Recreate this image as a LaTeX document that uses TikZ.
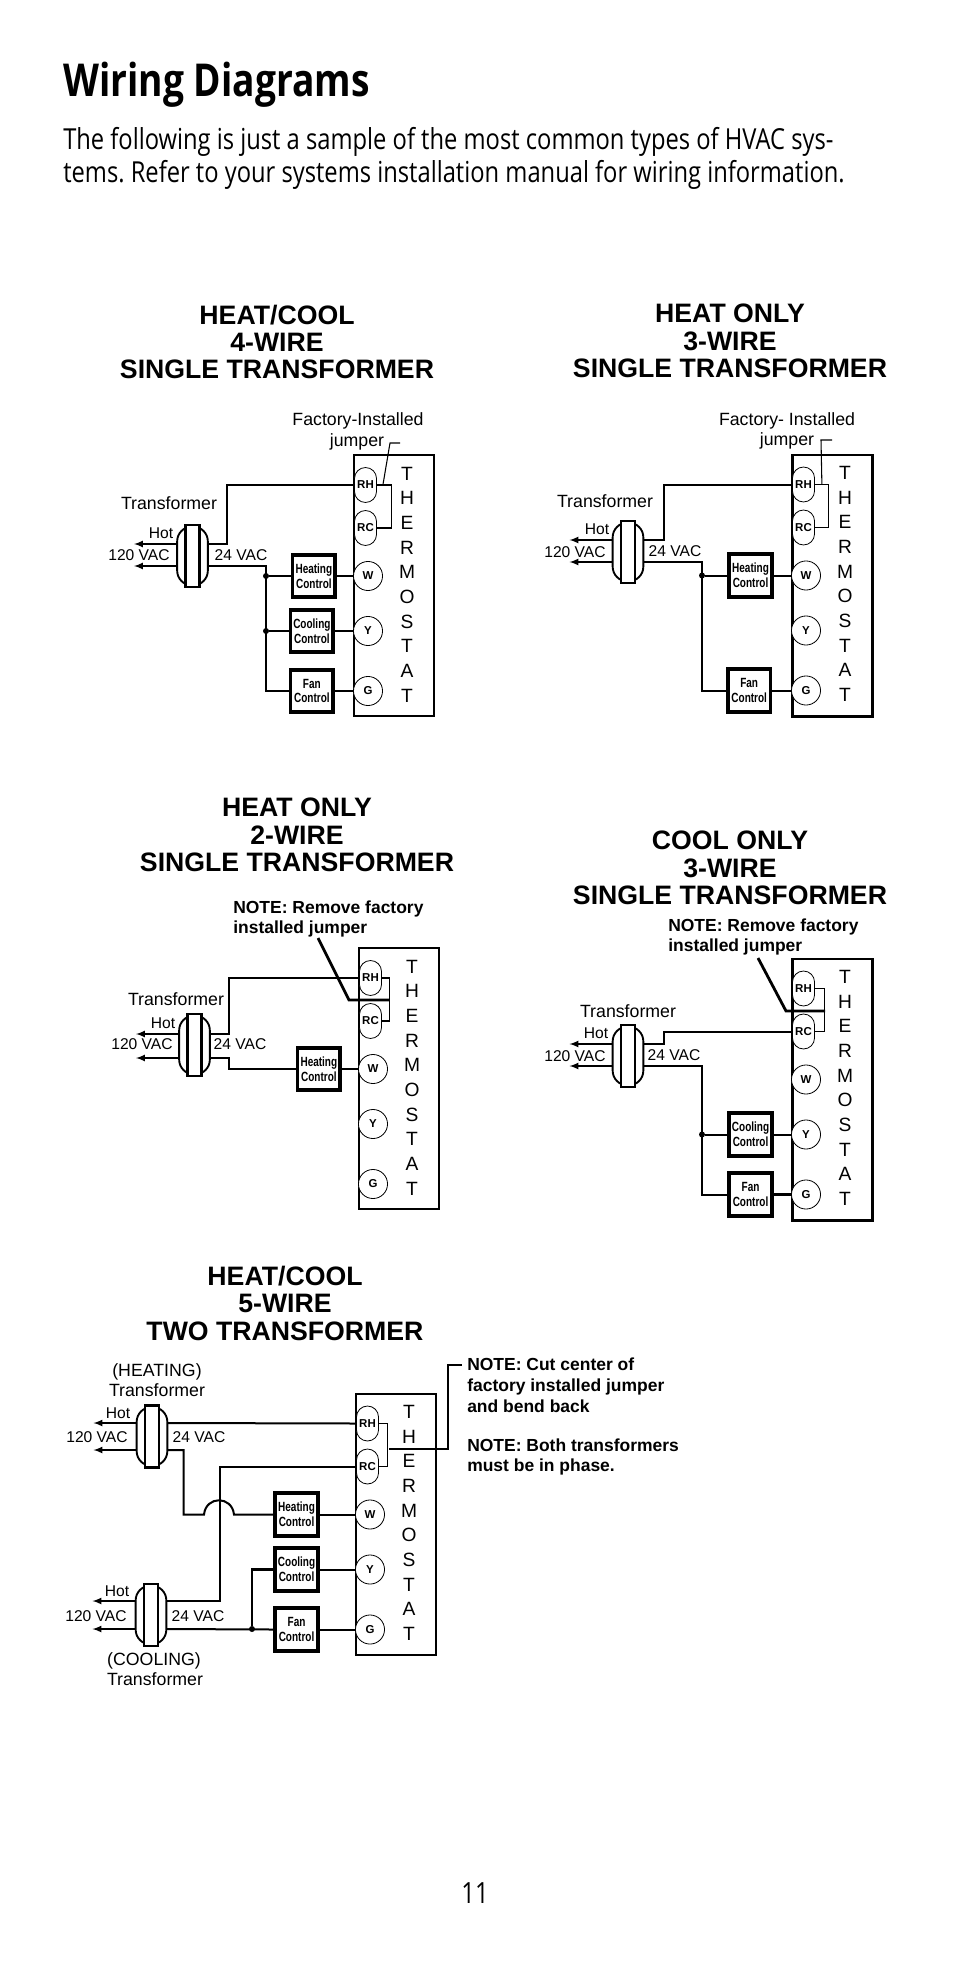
\documentclass[tikz,border=0pt]{standalone}
\usepackage{fontspec}
\setmainfont{Liberation Sans}
\newfontfamily\pagefont[FakeStretch=0.82]{Open Sans}
\newfontfamily\controlfont[FakeStretch=0.75]{Liberation Sans}
\usetikzlibrary{positioning, calc}
\tikzstyle{wire} = [draw, line width=1.5pt]
\tikzstyle{heavywire} = [draw, line width=2.1pt]
\tikzstyle{thinwire} = [draw, line width=.8pt]
\tikzstyle{feed} = [draw, line width=1.3pt, -latex]
\tikzstyle{dot} = [circle, fill=black, inner sep=0pt, minimum size=4.5pt]
\tikzstyle{lab} = [inner sep=0pt, text height=8.4pt, text depth=0pt, font=\fontsize{11.7}{14}\selectfont]
\tikzstyle{biglab} = [inner sep=0pt, text height=9.6pt, text depth=0pt, font=\fontsize{13.3}{16}\selectfont]
\tikzstyle{note} = [inner sep=0pt, anchor=west, align=left, font=\bfseries\fontsize{13.1}{15.4}\selectfont]
\tikzstyle{heading} = [inner sep=0pt, align=center, font=\bfseries\fontsize{20}{20.6}\selectfont]
\tikzstyle{control} = [draw, fill=white, line width=2.8pt, align=center, inner sep=0pt, minimum width=32pt, minimum height=32pt, font=\controlfont\bfseries\fontsize{10}{11.2}\selectfont]
\tikzstyle{terminal} = [draw, fill=white, line width=.6pt, inner sep=0pt, font=\bfseries\fontsize{8.6}{10}\selectfont]
\tikzstyle{pill} = [terminal, rectangle, rounded corners=8.2pt, minimum width=16.5pt, minimum height=26.2pt]
\tikzstyle{round} = [terminal, circle, minimum size=21.8pt]
\newcommand{\thermostat}[3][1.5pt]{%
	\begin{scope}[shift={(#2,#3)}]
		\node [draw, line width=#1, anchor=north west, minimum width=60pt, minimum height=196pt] (box) at (0,0) {};
		\foreach \letter [count=\i] in {T,H,E,R,M,O,S,T,A,T}
			\node [inner sep=0pt, font=\fontsize{14.4}{15}\selectfont] (letter\i) at (54,{19.5+24.67*(\i-1)}) {\letter};
		\node [pill] (RH) at (12.5,31) {RH};
		\node [pill] (RC) at (12.5,74) {RC};
		\node [round] (W) at (15,122) {W};
		\node [round] (Y) at (15,177) {Y};
		\node [round] (G) at (15,237) {G};
	\end{scope}}
\newcommand{\transformer}[5]{%
	\begin{scope}[shift={(#2,#3)}]
		\node [draw, fill=white, line width=1.4pt, rounded corners=11pt, minimum width=23pt, minimum height=44pt, inner sep=0pt] (#1) at (0,0) {};
		\node [draw, fill=white, line width=1.6pt, minimum width=10.5pt, minimum height=46.5pt, inner sep=0pt] (#1core) at (0,0) {};
		\coordinate (#1nw) at (-15.5,#4);
		\coordinate (#1sw) at (-15.5,#5);
		\coordinate (#1ne) at (15.5,#4);
		\coordinate (#1se) at (15.5,#5);
		\coordinate (#1nt) at (-58.5,#4);
		\coordinate (#1st) at (-58.5,#5);
		\draw [feed] (#1nw) -- (#1nt);
		\draw [feed] (#1sw) -- (#1st);
	\end{scope}}
\begin{document}
\frenchspacing
\begin{tikzpicture}[x=.75pt, y=-.75pt]
	\useasboundingbox (0,0) rectangle (954,1972);
	\node [inner sep=0pt, anchor=west, font=\pagefont\bfseries\fontsize{34}{36}\selectfont] (title) at (63,85) {Wiring Diagrams};
	\node [inner sep=0pt, anchor=north west, align=left, font=\pagefont\fontsize{21.7}{24.6}\selectfont] (intro) at (63,127) {The following is just a sample of the most common types of HVAC sys-\\tems. Refer to your systems installation manual for wiring information.};
	\node [inner sep=0pt, font=\pagefont\fontsize{21.9}{24}\selectfont] (pageno) at (475,1893) {11};
	% heat/cool 4-wire
	\begin{scope}[name prefix=a-]
		\node [heading] (head) at (277,342) {HEAT/COOL\\4-WIRE\\SINGLE TRANSFORMER};
		\node [biglab] (factory) at (358,419) {Factory-Installed};
		\node [biglab] (jumper) at (357,440) {jumper};
		\thermostat{353}{454}
		\transformer{tr}{192.5}{556}{-12}{10}
		\node [biglab] (trlab) at (169,503) {Transformer};
		\node [lab] (hot) at (161,533) {Hot};
		\node [lab] (vac) at (139,555) {120 VAC};
		\node [lab] (low) at (241,555) {24 VAC};
		\node [control, left=12pt of W] (heat) {Heating\\Control};
		\node [control, left=13.5pt of Y] (cool) {Cooling\\Control};
		\node [control, left=13.5pt of G] (fan) {Fan\\Control};
		\coordinate (bus) at (266,0);
		\node [dot] (j1) at (heat.west -| bus) {};
		\node [dot] (j2) at (cool.west -| bus) {};
		\draw [heavywire] (trne) -- ++(19,0) |- (RH.west);
		\draw [wire] (trse) -| (bus |- fan.west) -- (fan.west);
		\draw [wire] (j1) -- (heat.west);
		\draw [wire] (j2) -- (cool.west);
		\draw [wire] (heat.east) -- (W.west);
		\draw [wire] (cool.east) -- (Y.west);
		\draw [wire] (fan.east) -- (G.west);
		\draw [thinwire] (RH.east) -- ++(15,0) |- (RC.east);
		\coordinate (lead) at (390,443);
		\draw [thinwire] (400,443) -- (lead) -- ($(RH.east)+(6,0)$);
	\end{scope}
	% heat only 3-wire
	\begin{scope}[name prefix=b-]
		\node [heading] (head) at (730,341) {HEAT ONLY\\3-WIRE\\SINGLE TRANSFORMER};
		\node [biglab] (factory) at (787,419) {Factory- Installed};
		\node [biglab] (jumper) at (787,439) {jumper};
		\thermostat[2.2pt]{791}{453.5}
		\transformer{tr}{628}{552}{-12}{10}
		\node [biglab] (trlab) at (605,501) {Transformer};
		\node [lab] (hot) at (597,529) {Hot};
		\node [lab] (vac) at (575,552) {120 VAC};
		\node [lab] (low) at (675,551) {24 VAC};
		\node [control, left=13pt of W] (heat) {Heating\\Control};
		\node [control, left=14pt of G] (fan) {Fan\\Control};
		\coordinate (bus) at (702,0);
		\node [dot] (j1) at (heat.west -| bus) {};
		\draw [wire] (trne) -- ++(20,0) |- (RH.west);
		\draw [wire] (trse) -| (bus |- fan.west) -- (fan.west);
		\draw [wire] (j1) -- (heat.west);
		\draw [wire] (heat.east) -- (W.west);
		\draw [wire] (fan.east) -- (G.west);
		\draw [thinwire] (RH.east) -- ++(14,0) |- (RC.east);
		\coordinate (lead) at (821,440);
		\draw [thinwire] (832,440) -- (lead) -- ($(RH.east)+(7,0)$);
	\end{scope}
	% heat only 2-wire
	\begin{scope}[name prefix=c-]
		\node [heading] (head) at (297,835) {HEAT ONLY\\2-WIRE\\SINGLE TRANSFORMER};
		\node [note] (remove) at (233,919) {NOTE: Remove factory\\installed jumper};
		\thermostat{358}{947}
		\transformer{tr}{194.5}{1045}{-11}{13}
		\node [biglab] (trlab) at (176,999) {Transformer};
		\node [lab] (hot) at (163,1023) {Hot};
		\node [lab] (vac) at (142,1044) {120 VAC};
		\node [lab] (low) at (240,1044) {24 VAC};
		\node [control, left=12pt of W] (heat) {Heating\\Control};
		\draw [wire] (trne) -- ++(19,0) |- (RH.west);
		\draw [wire] (trse) -- ++(19,0) |- (heat.west);
		\draw [wire] (heat.east) -- (W.west);
		\draw [thinwire] (RH.east) -- ++(8,0) |- (RC.east);
		\coordinate (lead) at (349,1000);
		\draw [heavywire] (318,938) -- (lead) -- (389,1000);
	\end{scope}
	% cool only 3-wire
	\begin{scope}[name prefix=d-]
		\node [heading] (head) at (730,868) {COOL ONLY\\3-WIRE\\SINGLE TRANSFORMER};
		\node [note] (remove) at (668,937) {NOTE: Remove factory\\installed jumper};
		\thermostat[2.2pt]{791}{957.5}
		\transformer{tr}{628}{1056}{-12}{10}
		\node [biglab] (trlab) at (628,1011) {Transformer};
		\node [lab] (hot) at (596,1033) {Hot};
		\node [lab] (vac) at (575,1056) {120 VAC};
		\node [lab] (low) at (674,1055) {24 VAC};
		\node [control, left=13pt of Y] (cool) {Cooling\\Control};
		\node [control, left=13pt of G] (fan) {Fan\\Control};
		\coordinate (bus) at (702,0);
		\node [dot] (j1) at (cool.west -| bus) {};
		\draw [wire] (trne) -- ++(20,0) |- (RC.west);
		\draw [wire] (trse) -| (bus |- fan.west) -- (fan.west);
		\draw [wire] (j1) -- (cool.west);
		\draw [wire] (cool.east) -- (Y.west);
		\draw [heavywire] (fan.east) -- (G.west);
		\draw [thinwire] (RH.east) -- ++(10,0) |- (RC.east);
		\coordinate (lead) at (786,1011);
		\draw [heavywire] (758,958) -- (lead) -- (825,1011);
	\end{scope}
	% heat/cool 5-wire, two transformers
	\begin{scope}[name prefix=e-]
		\node [heading] (head) at (285,1303) {HEAT/COOL\\5-WIRE\\TWO TRANSFORMER};
		\node [biglab] (heating) at (157,1370) {(HEATING)};
		\node [biglab] (trlab) at (157,1390) {Transformer};
		\node [biglab] (cooling) at (154,1659) {(COOLING)};
		\node [biglab] (trlabb) at (155,1679) {Transformer};
		\node [note, anchor=north west] (cut) at (467,1358) {NOTE: Cut center of\\factory installed jumper\\and bend back};
		\node [note, anchor=north west] (phase) at (467,1438.5) {NOTE: Both transformers\\must be in phase.};
		\thermostat{355}{1392.5}
		\transformer{up}{152}{1436.5}{-13.5}{13.5}
		\transformer{lo}{151}{1615}{-14}{14}
		\node [lab] (hot) at (118,1413) {Hot};
		\node [lab] (vac) at (97,1437) {120 VAC};
		\node [lab] (low) at (199,1437) {24 VAC};
		\node [lab] (hotb) at (117,1591) {Hot};
		\node [lab] (vacb) at (96,1616) {120 VAC};
		\node [lab] (lowb) at (198,1616) {24 VAC};
		\node [control, left=26.5pt of W] (heat) {Heating\\Control};
		\node [control, left=26.5pt of Y] (cool) {Cooling\\Control};
		\node [control, left=26.5pt of G] (fan) {Fan\\Control};
		\coordinate (hop) at (204,0);
		\coordinate (hopend) at (234,0);
		\draw [wire] (upne) -- (RH.west);
		\draw [wire] (lone) -- ++(53,0) |- (RC.west);
		\draw [wire] (upse) -- ++(16,0) |- (hop |- heat.west) .. controls +(2,-19) and +(-2,-19) .. (hopend |- heat.west) -- (heat.west);
		\draw [wire] (lose) -- (fan.west);
		\node [dot] (j1) at (252,1629) {};
		\draw [heavywire] (j1) |- (cool.west);
		\draw [wire] (heat.east) -- (W.west);
		\draw [wire] (cool.east) -- (Y.west);
		\draw [wire] (fan.east) -- (G.west);
		\draw [thinwire] (RH.east) -- ++(9,0) |- (RC.east);
		\coordinate (leadup) at (448,1449);
		\draw [thinwire] (389,1449) -- (leadup) -- (448,1365) -- (462,1365);
	\end{scope}
\end{tikzpicture}
\end{document}
